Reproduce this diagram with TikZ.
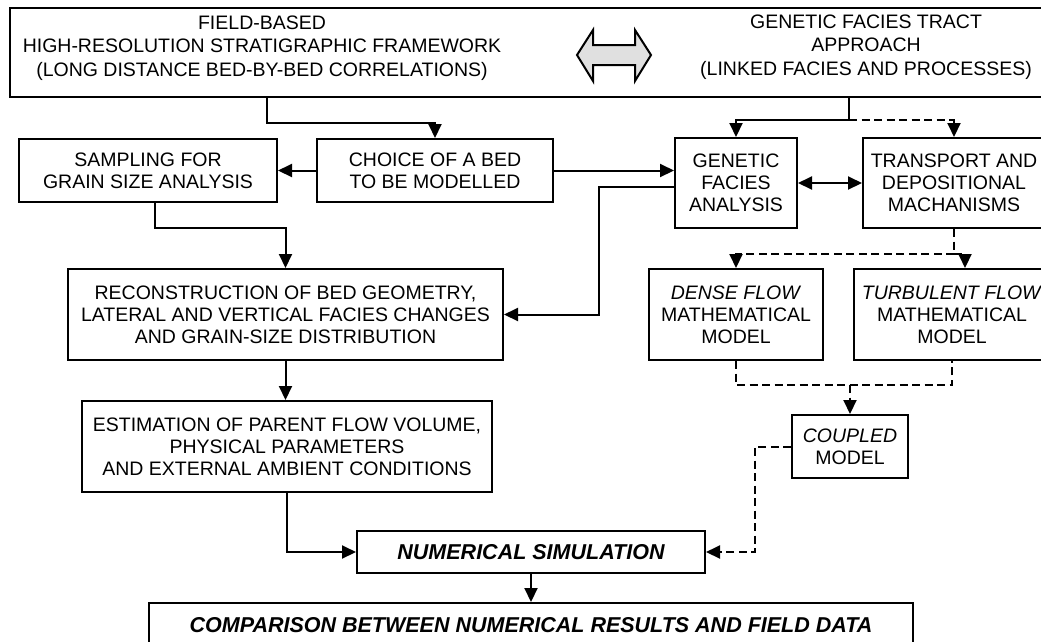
\documentclass[tikz,border=0pt]{standalone}
\usepackage{fontspec}
\setmainfont{Liberation Sans}
\usetikzlibrary{positioning}
\usetikzlibrary{arrows.meta}

\begin{document}
\begin{tikzpicture}[x=1pt, y=-1pt,
		txt/.style={align=center, inner sep=0pt, font=\fontsize{19.5}{23.5}\selectfont},
		box/.style={draw, line width=2pt, inner sep=2pt, align=center, font=\fontsize{19.5}{22}\selectfont},
		bbox/.style={box, font=\fontsize{21.5}{24}\selectfont\bfseries\itshape},
		arr/.style={line width=2pt, -{Triangle[length=14pt,width=13pt]}},
		twoarr/.style={line width=2pt, {Triangle[length=14pt,width=13pt]}-{Triangle[length=14pt,width=13pt]}},
		dsh/.style={line width=2pt, dash pattern=on 8pt off 4.5pt},
		dsharr/.style={dsh, -{Triangle[length=14pt,width=13pt]}}]
		\useasboundingbox (0,0) rectangle (1041,641);
		\clip (0,0) rectangle (1041,641);
		%\draw[gray,step=50] (0,0) grid (1041,641);
		% framework and approach
		\node[box, minimum width=1040pt, minimum height=89pt] (top) at (530,52.5) {};
		\node[txt] (field) at (262,48) {FIELD-BASED\\HIGH-RESOLUTION STRATIGRAPHIC FRAMEWORK\\(LONG DISTANCE BED-BY-BED CORRELATIONS)};
		\node[txt] (tract) at (866,47) {GENETIC FACIES TRACT\\APPROACH\\(LINKED FACIES AND PROCESSES)};
		\draw[line width=2pt, fill=black!12] (577,55) -- (593,30) -- (593,45) -- (635,45) -- (635,30) -- (651,55)
			-- (635,81) -- (635,65) -- (593,65) -- (593,81) -- cycle;
		\coordinate (topa) at (267,97);
		\coordinate (topb) at (849,97);
		% boxes
		\node[box, minimum width=258pt, minimum height=63pt] (sampling) at (148,170.5) {SAMPLING FOR\\GRAIN SIZE ANALYSIS};
		\node[box, minimum width=236pt, minimum height=63pt] (choice) at (435,170.5) {CHOICE OF A BED\\TO BE MODELLED};
		\node[box, minimum width=122pt, minimum height=90pt] (genfac) at (736,183) {GENETIC\\FACIES\\ANALYSIS};
		\node[box, minimum width=182pt, minimum height=90pt] (transport) at (954,183) {TRANSPORT AND\\DEPOSITIONAL\\MACHANISMS};
		\node[box, minimum width=435pt, minimum height=91pt] (recon) at (285.5,314.5) {RECONSTRUCTION OF BED GEOMETRY,\\LATERAL AND VERTICAL FACIES CHANGES\\AND GRAIN-SIZE DISTRIBUTION};
		\node[box, minimum width=174pt, minimum height=91pt] (dense) at (736,314.5) {\textit{DENSE FLOW}\\MATHEMATICAL\\MODEL};
		\node[box, minimum width=196pt, minimum height=91pt] (turbulent) at (952,314.5) {\textit{TURBULENT FLOW}\\MATHEMATICAL\\MODEL};
		\node[box, minimum width=410pt, minimum height=91pt] (estim) at (287,446.5) {ESTIMATION OF PARENT FLOW VOLUME,\\PHYSICAL PARAMETERS\\AND EXTERNAL AMBIENT CONDITIONS};
		\node[box, minimum width=116pt, minimum height=63pt] (coupled) at (850,446.5) {\textit{COUPLED}\\MODEL};
		\node[bbox, minimum width=348pt, minimum height=42pt] (numsim) at (531,552) {NUMERICAL SIMULATION};
		\node[bbox, minimum width=764pt, minimum height=44pt] (compar) at (531,625) {COMPARISON BETWEEN NUMERICAL RESULTS AND FIELD DATA};
		% connectors
		\draw[arr] (topa) -- ++(0,26) -| (choice.north);
		\draw[arr] (topb) -- ++(0,23) coordinate (fork) -| (genfac.north);
		\draw[dsharr] (fork) -| (transport.north);
		\draw[arr] (choice.west) -- (sampling.east);
		\draw[arr] (choice.east) -- (choice.east -| genfac.west);
		\draw[twoarr] (genfac.east) -- (transport.west);
		\draw[arr] ([yshift=-4pt]genfac.west) -- ++(-75,0) |- (recon.east);
		\draw[arr] ([xshift=7pt]sampling.south) -- ++(0,25) -| (recon.north);
		\draw[arr] (recon.south) -- (recon.south |- estim.north);
		\draw[arr] (estim.south) |- (numsim.west);
		\draw[arr] (numsim.south) -- (compar.north);
		\draw[dsh] (transport.south) -- ++(0,25) coordinate (split);
		\draw[dsharr] (split) -| (dense.north);
		\draw[dsharr] (split) -| ([xshift=13pt]turbulent.north);
		\draw[dsh] (dense.south) -- ++(0,24) coordinate (join) -| (turbulent.south);
		\draw[dsharr] (join -| coupled.north) -- (coupled.north);
		\draw[dsharr] (coupled.west) -- ++(-36,0) |- (numsim.east);
\end{tikzpicture}
\end{document}
